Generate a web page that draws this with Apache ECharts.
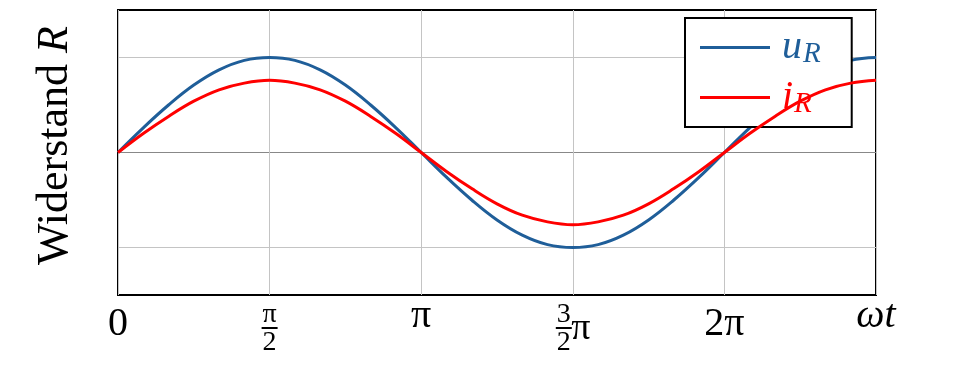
<!DOCTYPE html>
<html><head><meta charset="utf-8">
<script src="https://cdn.jsdelivr.net/npm/echarts@6/dist/echarts.min.js"></script>
<style>html,body{margin:0;padding:0;background:#fff}#c{width:959px;height:384px}</style>
</head><body><div id="c"></div>
<script>
// ωt in degrees (x axis runs 0 .. 2.5π)
const angles = [0,15,30,45,60,75,90,105,120,135,150,165,180,195,210,225,240,255,270,285,300,315,330,345,360,375,390,405,420,435,450];
const uR = [0,0.26,0.5,0.71,0.87,0.97,1,0.97,0.87,0.71,0.5,0.26,0,-0.26,-0.5,-0.71,-0.87,-0.97,-1,-0.97,-0.87,-0.71,-0.5,-0.26,0,0.26,0.5,0.71,0.87,0.97,1];
const iR = [0,0.2,0.38,0.54,0.66,0.73,0.76,0.73,0.66,0.54,0.38,0.2,0,-0.2,-0.38,-0.54,-0.66,-0.73,-0.76,-0.73,-0.66,-0.54,-0.38,-0.2,0,0.2,0.38,0.54,0.66,0.73,0.76];
const xTicks = [0,90,180,270,360,450];
const xTickLabels = ['{t|0}', '{fn|π}\n{bar|}\n{fd|2}', '{p|π}', '{fn|3}{sp|}\n{bar|}{pm|π}\n{fd|2}{sp|}', '{t|2π}', '{w|ωt}'];
const seriesNames = ['u_R', 'i_R'];
const yAxisTitle = 'Widerstand {r|R}';

const BLUE = '#1f5e99', RED = '#ff0000';
const SERIF = 'Liberation Serif';
const chart = echarts.init(document.getElementById('c'));
const tr = 'rgba(0,0,0,0)';
chart.setOption({
  animation: false,
  textStyle: { fontFamily: SERIF, fontWeight: 'normal' },
  grid: { left: 118, right: 83, top: 10, bottom: 89, show: true, borderColor: '#000', borderWidth: 2, backgroundColor: '#fff' },
  xAxis: {
    type: 'value', min: 0, max: 450, interval: 90,
    axisLine: { show: false }, axisTick: { show: false },
    splitLine: { show: true, lineStyle: { color: '#c4c4c4', width: 1 } },
    axisLabel: {
      show: true, margin: 9, showMinLabel: true, showMaxLabel: true, color: '#000',
      fontFamily: SERIF, fontSize: 40, fontWeight: 'normal',
      formatter: v => { const k = xTicks.indexOf(Math.round(v)); return k >= 0 ? xTickLabels[k] : ''; },
      rich: {
        t: { fontFamily: SERIF, fontWeight: 'normal', fontSize: 40, lineHeight: 40, color: '#000' },
        p: { fontFamily: SERIF, fontWeight: 'normal', fontSize: 40, lineHeight: 24, color: '#000' },
        w: { fontFamily: SERIF, fontWeight: 'normal', fontSize: 40, fontStyle: 'italic', lineHeight: 24, color: '#000' },
        fn: { fontFamily: SERIF, fontWeight: 'normal', fontSize: 28, lineHeight: 21, color: '#000' },
        fd: { fontFamily: SERIF, fontWeight: 'normal', fontSize: 28, lineHeight: 24, color: '#000' },
        bar: { width: 16, height: 2, lineHeight: 6, backgroundColor: '#000' },
        sp: { width: 18, height: 10 },
        pm: { fontFamily: SERIF, fontWeight: 'normal', fontSize: 38, lineHeight: 6, width: 18, color: '#000', padding: [3, 0, 0, 0] }
      }
    }
  },
  yAxis: {
    type: 'value', min: -1.5, max: 1.5, interval: 0.5,
    axisLine: { show: false }, axisTick: { show: false }, axisLabel: { show: false },
    splitLine: { show: true, lineStyle: { color: [tr, '#c4c4c4', tr, '#888888', tr, '#c4c4c4', tr], width: 1.2 } },
    name: yAxisTitle, nameLocation: 'middle', nameGap: 41, nameRotate: 90,
    nameTextStyle: {
      fontFamily: SERIF, fontWeight: 'normal', fontSize: 44, color: '#000', padding: [0, 0, 0, 14],
      rich: { r: { fontFamily: SERIF, fontWeight: 'normal', fontSize: 44, fontStyle: 'italic', color: '#000' } }
    }
  },
  legend: {
    left: 685, top: 18, orient: 'vertical',
    padding: [8, 31, 8, 15], itemGap: 7, itemWidth: 70, itemHeight: 3, icon: 'rect',
    backgroundColor: '#fff', borderColor: '#000', borderWidth: 2, borderRadius: 0,
    data: seriesNames,
    formatter: n => n === 'u_R' ? '{u|u}{us|R}' : '{i|i}{is|R}',
    textStyle: {
      fontFamily: SERIF,
      rich: {
        u: { fontFamily: SERIF, fontStyle: 'italic', fontSize: 40, lineHeight: 40, color: BLUE, padding: [0, 0, 0, 7] },
        us: { fontFamily: SERIF, fontStyle: 'italic', fontSize: 29, lineHeight: 26, color: BLUE, padding: [14, 0, 0, 1] },
        i: { fontFamily: SERIF, fontStyle: 'italic', fontSize: 40, lineHeight: 40, color: RED, padding: [0, 0, 0, 7] },
        is: { fontFamily: SERIF, fontStyle: 'italic', fontSize: 29, lineHeight: 26, color: RED, padding: [14, 0, 0, 1] }
      }
    }
  },
  series: [
    { name: seriesNames[0], type: 'line', data: angles.map((a, k) => [a, uR[k]]), smooth: 0.4, showSymbol: false, symbol: 'none',
      lineStyle: { color: BLUE, width: 3 }, itemStyle: { color: BLUE }, z: 3 },
    { name: seriesNames[1], type: 'line', data: angles.map((a, k) => [a, iR[k]]), smooth: 0.4, showSymbol: false, symbol: 'none',
      lineStyle: { color: RED, width: 3 }, itemStyle: { color: RED }, z: 4 }
  ]
});
</script></body></html>
